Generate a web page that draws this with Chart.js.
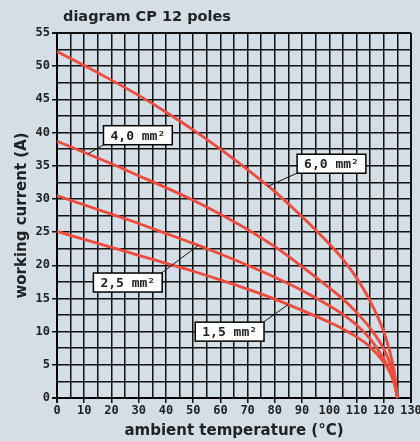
<!DOCTYPE html>
<html>
<head>
<meta charset="utf-8">
<script src="https://cdn.jsdelivr.net/npm/chart.js@4.4.1/dist/chart.umd.min.js"></script>
<style>
  html, body { margin: 0; padding: 0; background: #d4dee6; }
  #wrap { width: 420px; height: 441px; }
</style>
</head>
<body>
<div id="wrap"><canvas id="cpChart"></canvas></div>
<script>
// ambient temperature (°C) sample points
const temps = [0, 10, 20, 30, 40, 50, 60, 70, 80, 90, 100, 105, 110, 115, 120, 122, 124, 125];

// working current (A) per cable section
const current60 = [52.2, 50.1, 47.9, 45.6, 43.1, 40.4, 37.5, 34.4, 31.1, 27.3, 23.2, 20.9, 18.1, 14.6, 10.0, 7.3, 3.6, 0];
const current40 = [38.7, 37.0, 35.3, 33.5, 31.7, 29.8, 27.7, 25.4, 22.8, 19.8, 16.6, 14.9, 12.9, 10.5, 7.4, 5.5, 2.8, 0];
const current25 = [30.5, 29.1, 27.7, 26.3, 24.8, 23.3, 21.7, 20.0, 18.2, 16.2, 13.9, 12.6, 11.0, 8.9, 5.9, 4.2, 2.0, 0];
const current15 = [25.1, 23.9, 22.7, 21.5, 20.3, 19.1, 17.8, 16.4, 14.9, 13.2, 11.4, 10.4, 9.2, 7.7, 5.4, 4.1, 2.0, 0];

const sectionNames = ['6,0 mm²', '4,0 mm²', '2,5 mm²', '1,5 mm²'];

const xTicks = [0, 10, 20, 30, 40, 50, 60, 70, 80, 90, 100, 110, 120, 130];
const yTicks = [0, 5, 10, 15, 20, 25, 30, 35, 40, 45, 50, 55];

const bgColor = '#d4dee6';
const lineColor = '#ef4a3b';
const inkColor = '#222';

// callout boxes: box centre and leader end, both in data units; corner the leader leaves from
const callouts = [
    { text: sectionNames[0], bx: 100.8, by: 35.3, px: 77.5, py: 31.9, corner: 'bl' },
    { text: sectionNames[1], bx: 29.7, by: 39.6, px: 11.4, py: 36.8, corner: 'bl' },
    { text: sectionNames[2], bx: 26.0, by: 17.4, px: 51.9, py: 23.0, corner: 'tr' },
    { text: sectionNames[3], bx: 63.4, by: 10.0, px: 85.0, py: 14.1, corner: 'tr' },
];

function toPoints(values) {
    return temps.map((t, i) => ({ x: t, y: values[i] }));
}

const backgroundPlugin = {
    id: 'background',
    beforeDraw(chart) {
        const { ctx, width, height } = chart;
        ctx.save();
        ctx.fillStyle = bgColor;
        ctx.fillRect(0, 0, width, height);
        ctx.restore();
    },
};

const headingPlugin = {
    id: 'heading',
    afterDraw(chart) {
        const { ctx } = chart;
        ctx.save();
        ctx.font = 'bold 14.5px "DejaVu Sans"';
        ctx.fillStyle = inkColor;
        ctx.textAlign = 'left';
        ctx.textBaseline = 'middle';
        ctx.fillText('diagram CP 12 poles', 63, 17);
        ctx.restore();
    },
};

const calloutPlugin = {
    id: 'callouts',
    afterDatasetsDraw(chart) {
        const { ctx, scales } = chart;
        ctx.save();
        ctx.font = 'bold 13px "DejaVu Sans Mono"';
        callouts.forEach((c) => {
            const cx = scales.x.getPixelForValue(c.bx);
            const cy = scales.y.getPixelForValue(c.by);
            const w = ctx.measureText(c.text).width + 14;
            const h = 19;
            const left = cx - w / 2;
            const top = cy - h / 2;
            const sx = c.corner === 'bl' ? left + 2 : left + w - 2;
            const sy = c.corner === 'bl' ? top + h - 1 : top + 1;
            // leader line
            ctx.strokeStyle = '#111';
            ctx.lineWidth = 1;
            ctx.beginPath();
            ctx.moveTo(sx, sy);
            ctx.lineTo(scales.x.getPixelForValue(c.px), scales.y.getPixelForValue(c.py));
            ctx.stroke();
            // box
            ctx.fillStyle = '#fff';
            ctx.fillRect(left, top, w, h);
            ctx.strokeStyle = '#000';
            ctx.lineWidth = 1.5;
            ctx.strokeRect(left, top, w, h);
            ctx.fillStyle = inkColor;
            ctx.textAlign = 'center';
            ctx.textBaseline = 'middle';
            ctx.fillText(c.text, cx, cy + 1);
        });
        ctx.restore();
    },
};

const series = [current60, current40, current25, current15];

const gridWidth = (ctx, max) => (ctx.tick && (ctx.tick.value === 0 || ctx.tick.value === max) ? 2 : 1.5);

// eslint-disable-next-line no-new
new Chart(document.getElementById('cpChart'), {
    type: 'line',
    data: {
        datasets: series.map((values, i) => ({
            label: sectionNames[i],
            data: toPoints(values),
            borderColor: lineColor,
            borderWidth: 2.8,
            pointRadius: 0,
            cubicInterpolationMode: 'monotone',
            fill: false,
            clip: 4,
        })),
    },
    options: {
        responsive: true,
        maintainAspectRatio: false,
        animation: false,
        layout: {
            padding: { top: 33, right: 9, left: 0, bottom: 0 },
        },
        plugins: {
            legend: { display: false },
            tooltip: { enabled: false },
        },
        scales: {
            x: {
                type: 'linear',
                min: 0,
                max: 130,
                afterFit(scale) {
                    scale.height = 43;
                    scale.paddingRight = 0;
                },
                ticks: {
                    stepSize: 5,
                    autoSkip: false,
                    maxRotation: 0,
                    padding: 1,
                    color: inkColor,
                    font: { family: 'DejaVu Sans Mono', size: 12, weight: 'bold' },
                    callback: (v) => (xTicks.includes(v) ? String(v) : ''),
                },
                grid: {
                    color: '#111',
                    lineWidth: (ctx) => gridWidth(ctx, 130),
                    tickLength: 5,
                    tickColor: (ctx) => (ctx.tick && xTicks.includes(ctx.tick.value) ? '#111' : 'rgba(0,0,0,0)'),
                },
                border: { color: '#000', width: 2 },
                title: {
                    display: true,
                    text: 'ambient temperature (°C)',
                    color: inkColor,
                    font: { family: 'DejaVu Sans', size: 15, weight: 'bold' },
                    padding: { top: 0, bottom: 1 },
                },
            },
            y: {
                min: 0,
                max: 55,
                afterFit(scale) { scale.width = 57; },
                ticks: {
                    stepSize: 2.5,
                    autoSkip: false,
                    padding: 2,
                    color: inkColor,
                    font: { family: 'DejaVu Sans Mono', size: 12, weight: 'bold' },
                    callback: (v) => (yTicks.includes(v) ? String(v) : ''),
                },
                grid: {
                    color: '#111',
                    lineWidth: (ctx) => gridWidth(ctx, 55),
                    tickLength: 5,
                    tickColor: (ctx) => (ctx.tick && yTicks.includes(ctx.tick.value) ? '#111' : 'rgba(0,0,0,0)'),
                },
                border: { color: '#000', width: 2 },
                title: {
                    display: true,
                    text: 'working current (A)',
                    color: inkColor,
                    font: { family: 'DejaVu Sans', size: 15, weight: 'bold' },
                    padding: { top: 13, bottom: 0 },
                },
            },
        },
    },
    plugins: [backgroundPlugin, headingPlugin, calloutPlugin],
});
</script>
</body>
</html>
